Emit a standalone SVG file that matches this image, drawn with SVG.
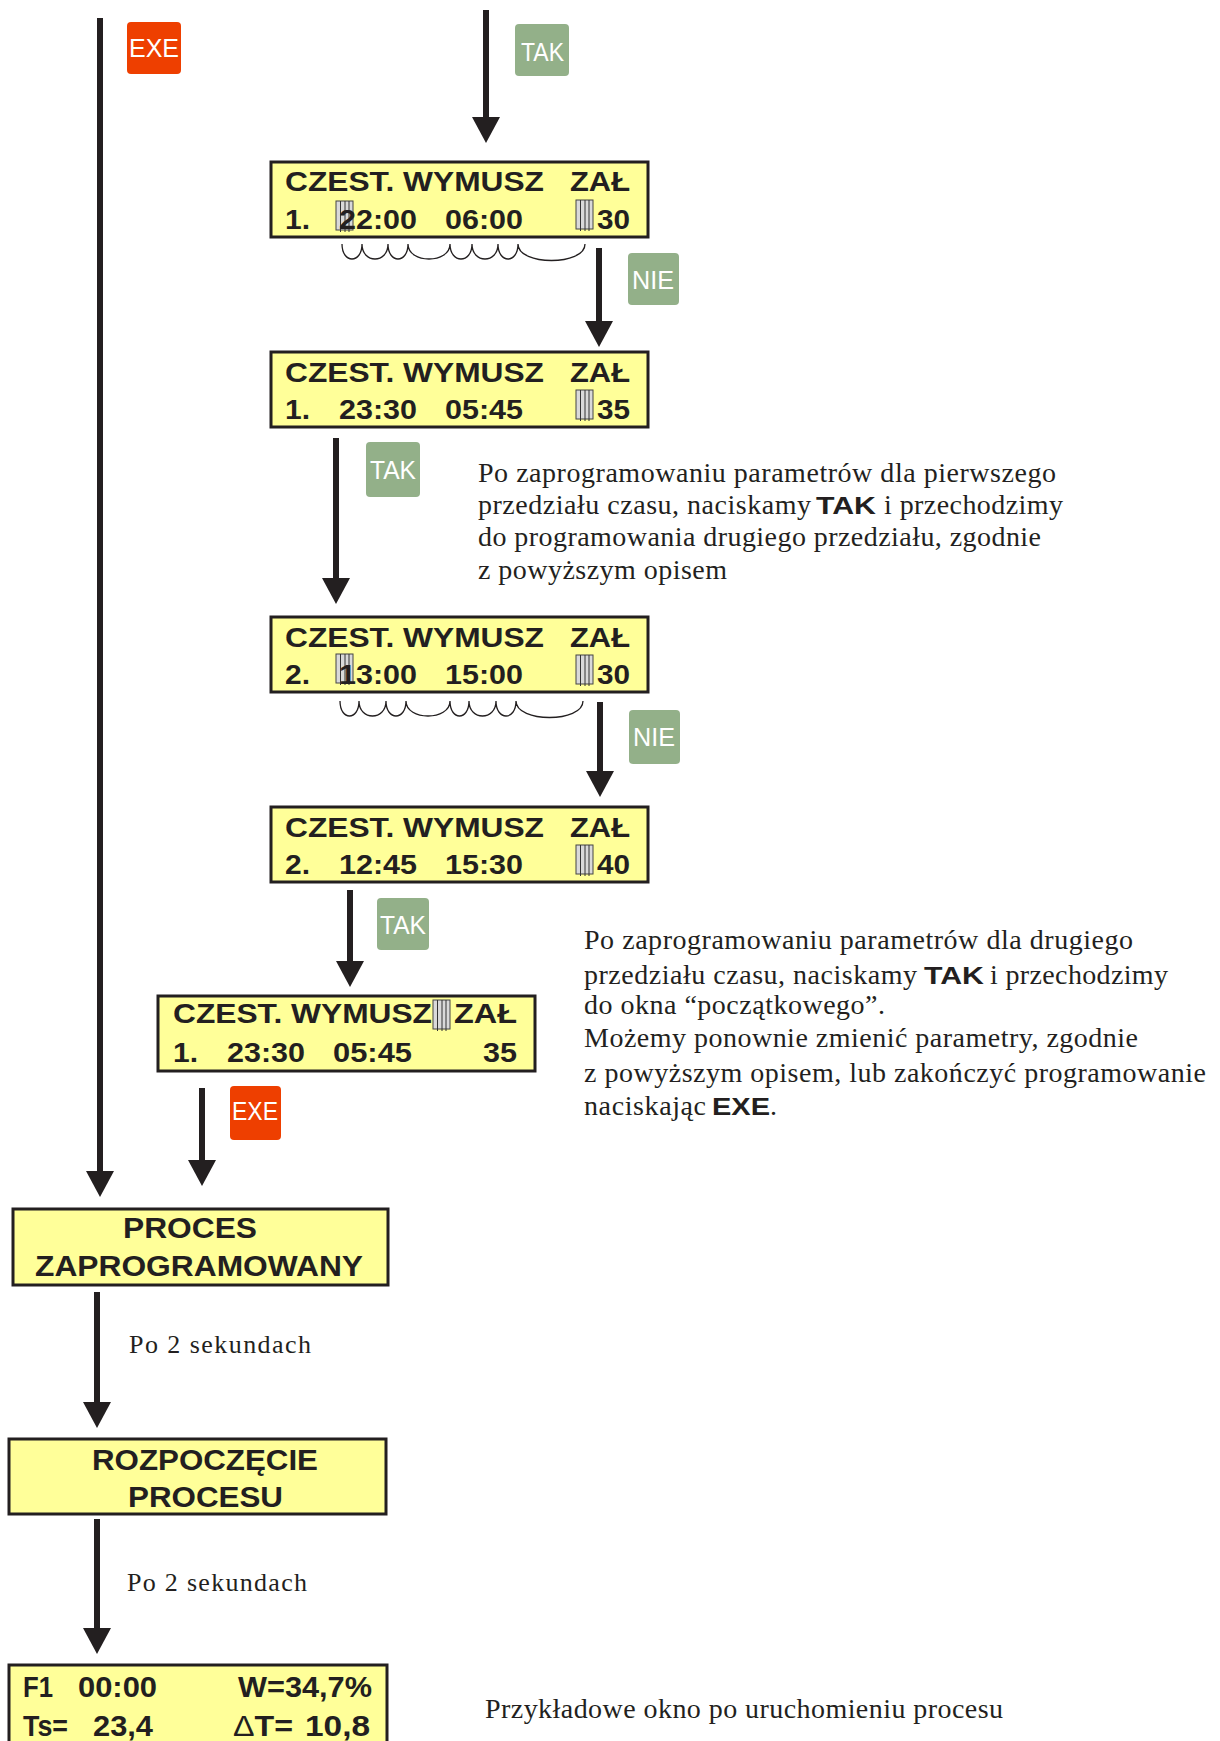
<svg xmlns="http://www.w3.org/2000/svg" width="1220" height="1741" viewBox="0 0 1220 1741">
<defs>
<style>
.lcd{fill:#ffff99;stroke:#231f20;stroke-width:3}
.lt{font-family:"Liberation Sans",Arial,sans-serif;font-weight:bold;font-size:28px;fill:#231f20}
.big{font-family:"Liberation Sans",Arial,sans-serif;font-weight:bold;font-size:29px;fill:#231f20}
.pt{font-family:"Liberation Serif","Times New Roman",serif;font-size:28px;fill:#231f20}
.ps{font-family:"Liberation Serif","Times New Roman",serif;font-size:26px;fill:#231f20}
.pb{font-family:"Liberation Sans",Arial,sans-serif;font-weight:bold;font-size:24px;fill:#231f20}
.bt{font-family:"Liberation Sans",Arial,sans-serif;font-size:26px;fill:#ffffff}
.exe{fill:#ee3f00}
.yes{fill:#93b089}
.arr{stroke:#231f20;stroke-width:6;fill:none}
.wave{stroke:#231f20;stroke-width:1.3;fill:none}
</style>
<marker id="ah" viewBox="0 0 26 28" refX="2" refY="14" markerWidth="26" markerHeight="28" markerUnits="userSpaceOnUse" orient="auto">
<path d="M0,0 L26,14 L0,28 z" fill="#231f20"/>
</marker>
<g id="cur">
<rect x="0" y="0" width="17" height="29" fill="#d9d9d9" stroke="#444" stroke-width="1"/>
<path d="M4.5,0V31M9,0V31M13,0V31" stroke="#333" stroke-width="1"/>
</g>
</defs>

<!-- connectors -->
<g id="connectors">
<line class="arr" x1="100" y1="18" x2="100" y2="1173" marker-end="url(#ah)"/>
<line class="arr" x1="486" y1="10" x2="486" y2="119" marker-end="url(#ah)"/>
<line class="arr" x1="599" y1="248" x2="599" y2="323" marker-end="url(#ah)"/>
<line class="arr" x1="336" y1="438" x2="336" y2="580" marker-end="url(#ah)"/>
<line class="arr" x1="600" y1="702" x2="600" y2="773" marker-end="url(#ah)"/>
<line class="arr" x1="350" y1="890" x2="350" y2="963" marker-end="url(#ah)"/>
<line class="arr" x1="202" y1="1088" x2="202" y2="1162" marker-end="url(#ah)"/>
<line class="arr" x1="97" y1="1292" x2="97" y2="1404" marker-end="url(#ah)"/>
<line class="arr" x1="97" y1="1519" x2="97" y2="1630" marker-end="url(#ah)"/>
</g>

<!-- key badges -->
<g id="key-exe-1"><rect class="exe" x="127" y="22" width="54" height="52" rx="4"/><text class="bt" x="129" y="57" textLength="50" lengthAdjust="spacingAndGlyphs">EXE</text></g>
<g id="key-tak-1"><rect class="yes" x="515" y="24" width="54" height="52" rx="4"/><text class="bt" x="521" y="61" textLength="43" lengthAdjust="spacingAndGlyphs">TAK</text></g>
<g id="key-nie-1"><rect class="yes" x="628" y="253" width="51" height="52" rx="4"/><text class="bt" x="632" y="289" textLength="42" lengthAdjust="spacingAndGlyphs">NIE</text></g>
<g id="key-tak-2"><rect class="yes" x="366" y="442" width="54" height="55" rx="4"/><text class="bt" x="370" y="479" textLength="46" lengthAdjust="spacingAndGlyphs">TAK</text></g>
<g id="key-nie-2"><rect class="yes" x="629" y="710" width="51" height="54" rx="4"/><text class="bt" x="633" y="746" textLength="42" lengthAdjust="spacingAndGlyphs">NIE</text></g>
<g id="key-tak-3"><rect class="yes" x="377" y="898" width="52" height="52" rx="4"/><text class="bt" x="380" y="934" textLength="46" lengthAdjust="spacingAndGlyphs">TAK</text></g>
<g id="key-exe-2"><rect class="exe" x="230" y="1086" width="51" height="54" rx="4"/><text class="bt" x="232" y="1120" textLength="46" lengthAdjust="spacingAndGlyphs">EXE</text></g>

<!-- screen 1: first interval, start hour cursor -->
<g id="screen-1">
<rect class="lcd" x="271" y="162" width="377" height="75"/>
<use href="#cur" x="336" y="201"/>
<use href="#cur" x="576" y="200"/>
<text class="lt" x="285" y="191" textLength="259" lengthAdjust="spacingAndGlyphs">CZEST. WYMUSZ</text>
<text class="lt" x="570" y="191" textLength="60" lengthAdjust="spacingAndGlyphs">ZAŁ</text>
<text class="lt" x="285" y="229" textLength="25" lengthAdjust="spacingAndGlyphs">1.</text>
<text class="lt" x="339" y="229" textLength="78" lengthAdjust="spacingAndGlyphs">22:00</text>
<text class="lt" x="445" y="229" textLength="78" lengthAdjust="spacingAndGlyphs">06:00</text>
<text class="lt" x="597" y="229" textLength="33" lengthAdjust="spacingAndGlyphs">30</text>
<path class="wave" d="M342,244 C342,264 362,264 362,244 C362,264 388,264 388,244 C388,264 408,264 408,244 C408,264 450,264 450,244 C450,264 472,264 472,244 C472,264 498,264 498,244 C498,264 518,264 518,244 C518,266 585,266 585,244"/>
</g>

<!-- screen 2 -->
<g id="screen-2">
<rect class="lcd" x="271" y="352" width="377" height="75"/>
<use href="#cur" x="576" y="390"/>
<text class="lt" x="285" y="382" textLength="259" lengthAdjust="spacingAndGlyphs">CZEST. WYMUSZ</text>
<text class="lt" x="570" y="382" textLength="60" lengthAdjust="spacingAndGlyphs">ZAŁ</text>
<text class="lt" x="285" y="419" textLength="25" lengthAdjust="spacingAndGlyphs">1.</text>
<text class="lt" x="339" y="419" textLength="78" lengthAdjust="spacingAndGlyphs">23:30</text>
<text class="lt" x="445" y="419" textLength="78" lengthAdjust="spacingAndGlyphs">05:45</text>
<text class="lt" x="597" y="419" textLength="33" lengthAdjust="spacingAndGlyphs">35</text>
</g>

<!-- note 1 -->
<g id="note-1">
<text class="pt" x="478" y="482" textLength="578">Po zaprogramowaniu parametrów dla pierwszego</text>
<text class="pt" x="478" y="514" textLength="333">przedziału czasu, naciskamy</text>
<text class="pb" x="816" y="514" textLength="60" lengthAdjust="spacingAndGlyphs">TAK</text>
<text class="pt" x="884" y="514" textLength="179">i przechodzimy</text>
<text class="pt" x="478" y="546" textLength="563">do programowania drugiego przedziału, zgodnie</text>
<text class="pt" x="478" y="579" textLength="249">z powyższym opisem</text>
</g>

<!-- screen 3: second interval -->
<g id="screen-3">
<rect class="lcd" x="271" y="617" width="377" height="75"/>
<use href="#cur" x="336" y="654"/>
<use href="#cur" x="576" y="655"/>
<text class="lt" x="285" y="647" textLength="259" lengthAdjust="spacingAndGlyphs">CZEST. WYMUSZ</text>
<text class="lt" x="570" y="647" textLength="60" lengthAdjust="spacingAndGlyphs">ZAŁ</text>
<text class="lt" x="285" y="684" textLength="25" lengthAdjust="spacingAndGlyphs">2.</text>
<text class="lt" x="339" y="684" textLength="78" lengthAdjust="spacingAndGlyphs">13:00</text>
<text class="lt" x="445" y="684" textLength="78" lengthAdjust="spacingAndGlyphs">15:00</text>
<text class="lt" x="597" y="684" textLength="33" lengthAdjust="spacingAndGlyphs">30</text>
<path class="wave" d="M340,701 C340,721 359,721 359,701 C359,721 386,721 386,701 C386,721 406,721 406,701 C406,721 450,721 450,701 C450,721 469,721 469,701 C469,721 496,721 496,701 C496,721 516,721 516,701 C516,723 583,723 583,701"/>
</g>

<!-- screen 4 -->
<g id="screen-4">
<rect class="lcd" x="271" y="807" width="377" height="75"/>
<use href="#cur" x="576" y="845"/>
<text class="lt" x="285" y="837" textLength="259" lengthAdjust="spacingAndGlyphs">CZEST. WYMUSZ</text>
<text class="lt" x="570" y="837" textLength="60" lengthAdjust="spacingAndGlyphs">ZAŁ</text>
<text class="lt" x="285" y="874" textLength="25" lengthAdjust="spacingAndGlyphs">2.</text>
<text class="lt" x="339" y="874" textLength="78" lengthAdjust="spacingAndGlyphs">12:45</text>
<text class="lt" x="445" y="874" textLength="78" lengthAdjust="spacingAndGlyphs">15:30</text>
<text class="lt" x="597" y="874" textLength="33" lengthAdjust="spacingAndGlyphs">40</text>
</g>

<!-- screen 5: back to the start window -->
<g id="screen-5">
<rect class="lcd" x="158" y="996" width="377" height="75"/>
<use href="#cur" x="433" y="1000"/>
<text class="lt" x="173" y="1023" textLength="259" lengthAdjust="spacingAndGlyphs">CZEST. WYMUSZ</text>
<text class="lt" x="454" y="1023" textLength="63" lengthAdjust="spacingAndGlyphs">ZAŁ</text>
<text class="lt" x="173" y="1062" textLength="25" lengthAdjust="spacingAndGlyphs">1.</text>
<text class="lt" x="227" y="1062" textLength="78" lengthAdjust="spacingAndGlyphs">23:30</text>
<text class="lt" x="333" y="1062" textLength="79" lengthAdjust="spacingAndGlyphs">05:45</text>
<text class="lt" x="483" y="1062" textLength="34" lengthAdjust="spacingAndGlyphs">35</text>
</g>

<!-- note 2 -->
<g id="note-2">
<text class="pt" x="584" y="949" textLength="549">Po zaprogramowaniu parametrów dla drugiego</text>
<text class="pt" x="584" y="984" textLength="333">przedziału czasu, naciskamy</text>
<text class="pb" x="924" y="984" textLength="60" lengthAdjust="spacingAndGlyphs">TAK</text>
<text class="pt" x="990" y="984" textLength="178">i przechodzimy</text>
<text class="pt" x="584" y="1014" textLength="301">do okna “początkowego”.</text>
<text class="pt" x="584" y="1047" textLength="554">Możemy ponownie zmienić parametry, zgodnie</text>
<text class="pt" x="584" y="1082" textLength="622">z powyższym opisem, lub zakończyć programowanie</text>
<text class="pt" x="584" y="1115" textLength="122">naciskając</text>
<text class="pb" x="712" y="1115" textLength="58" lengthAdjust="spacingAndGlyphs">EXE</text>
<text class="pt" x="770" y="1115">.</text>
</g>

<!-- process programmed -->
<g id="proces-zaprogramowany">
<rect class="lcd" x="13" y="1209" width="375" height="76"/>
<text class="big" x="123" y="1238" textLength="134" lengthAdjust="spacingAndGlyphs">PROCES</text>
<text class="big" x="35" y="1276" textLength="328" lengthAdjust="spacingAndGlyphs">ZAPROGRAMOWANY</text>
</g>
<text class="ps" x="129" y="1353" textLength="182">Po 2 sekundach</text>

<!-- process start -->
<g id="rozpoczecie-procesu">
<rect class="lcd" x="9" y="1439" width="377" height="75"/>
<text class="big" x="92" y="1470" textLength="226" lengthAdjust="spacingAndGlyphs">ROZPOCZĘCIE</text>
<text class="big" x="128" y="1507" textLength="155" lengthAdjust="spacingAndGlyphs">PROCESU</text>
</g>
<text class="ps" x="127" y="1591" textLength="180">Po 2 sekundach</text>

<!-- running process window -->
<g id="okno-procesu">
<rect class="lcd" x="9" y="1665" width="378" height="100"/>
<text class="big" x="23" y="1697" textLength="30" lengthAdjust="spacingAndGlyphs">F1</text>
<text class="big" x="78" y="1697" textLength="79" lengthAdjust="spacingAndGlyphs">00:00</text>
<text class="big" x="238" y="1697" textLength="134" lengthAdjust="spacingAndGlyphs">W=34,7%</text>
<text class="big" x="23" y="1736" textLength="45" lengthAdjust="spacingAndGlyphs">Ts=</text>
<text class="big" x="93" y="1736" textLength="60" lengthAdjust="spacingAndGlyphs">23,4</text>
<text class="big" x="233" y="1736" textLength="60" lengthAdjust="spacingAndGlyphs"><tspan font-weight="normal">Δ</tspan>T=</text>
<text class="big" x="305" y="1736" textLength="65" lengthAdjust="spacingAndGlyphs">10,8</text>
</g>
<text class="pt" x="485" y="1718" textLength="518">Przykładowe okno po uruchomieniu procesu</text>
</svg>
